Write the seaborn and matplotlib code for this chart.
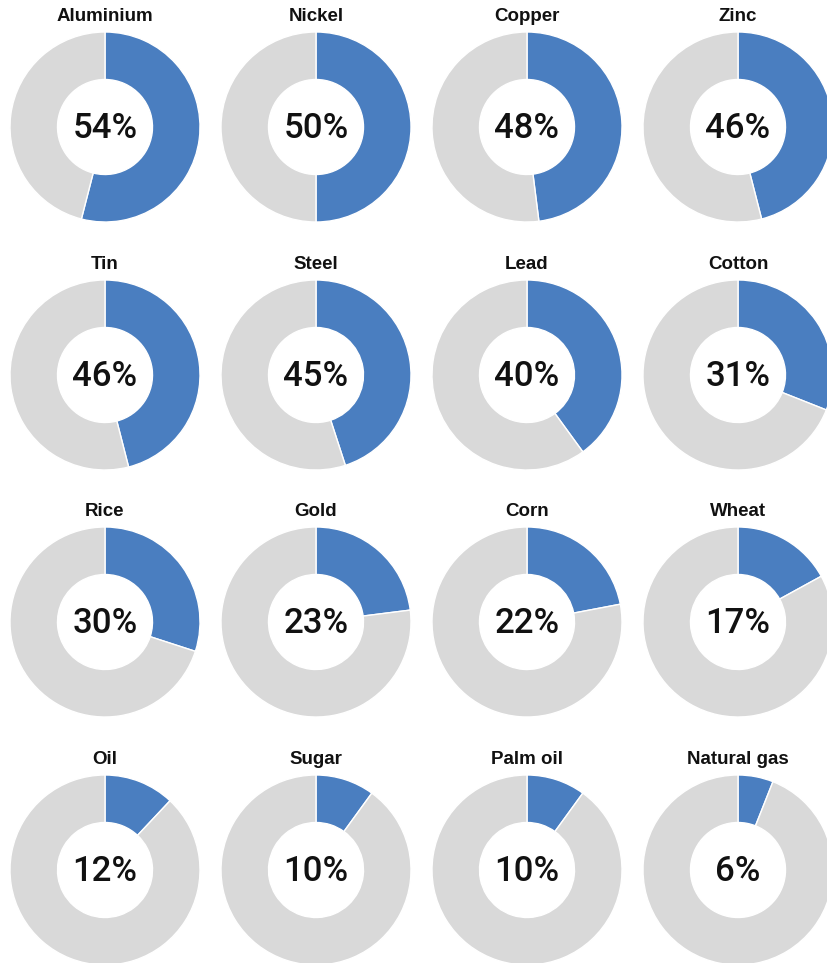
import matplotlib.pyplot as plt
import seaborn as sns

commodities = ["Aluminium", "Nickel", "Copper", "Zinc",
               "Tin", "Steel", "Lead", "Cotton",
               "Rice", "Gold", "Corn", "Wheat",
               "Oil", "Sugar", "Palm oil", "Natural gas"]
shares = [54, 50, 48, 46,
          46, 45, 40, 31,
          30, 23, 22, 17,
          12, 10, 10, 6]

BLUE = "#4a7ec0"
GREY = "#d9d9d9"

sns.set_style("white")
plt.rcParams["font.family"] = ["Liberation Sans", "DejaVu Sans"]

W, H = 828, 963
col_x = [105, 316, 527, 738]
row_y = [127, 375, 622, 870]
R = 95

fig = plt.figure(figsize=(W / 100, H / 100), dpi=100)
for i, (name, val) in enumerate(zip(commodities, shares)):
	cx = col_x[i % 4]
	cy = row_y[i // 4]
	ax = fig.add_axes([(cx - R) / W, 1 - (cy + R) / H, 2 * R / W, 2 * R / H])
	ax.pie([val, 100 - val], colors=[BLUE, GREY], startangle=90, counterclock=False,
		radius=1, wedgeprops={"width": 0.5, "edgecolor": "white", "linewidth": 1.0})
	ax.set_xlim(-1, 1)
	ax.set_ylim(-1, 1)
	ax.set_aspect("equal")
	ax.axis("off")
	ax.text(0, -0.02, f"{val}%", ha="center", va="center", fontsize=25, fontweight="medium",
		family=["Roboto", "DejaVu Sans"], color="#111111")
	fig.text(cx / W, 1 - (cy - 106) / H, name, ha="center", va="baseline", fontsize=13.5,
		fontweight="bold", color="#111111")

fig.savefig("out.png", dpi=100)
